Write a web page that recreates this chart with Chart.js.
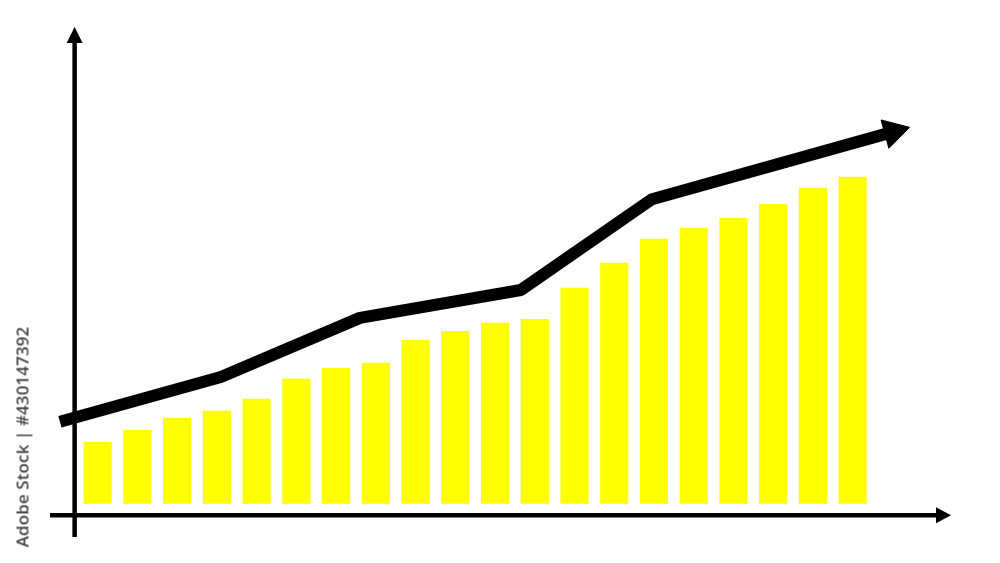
<!DOCTYPE html>
<html>
<head>
<meta charset="utf-8">
<script src="https://cdn.jsdelivr.net/npm/chart.js@4.4.1/dist/chart.umd.min.js"></script>
<style>
  html, body { margin: 0; padding: 0; background: #ffffff; }
  #wrap { position: relative; width: 1000px; height: 563px; overflow: hidden; }
  #stamp {
    position: absolute; left: 22px; top: 437px;
    transform: translate(-50%, -50%) rotate(-90deg);
    white-space: nowrap; font-family: "Open Sans", "Noto Sans", sans-serif;
    font-weight: 600; font-size: 17px; color: #444444; letter-spacing: 0.1px;
  }
</style>
</head>
<body>
<div id="wrap">
  <canvas id="c" width="1000" height="563"></canvas>
  <div id="stamp">Adobe Stock | #430147392</div>
</div>
<script>
// ---- data ----
const barIndex = [0,1,2,3,4,5,6,7,8,9,10,11,12,13,14,15,16,17,18,19];
const barValues = [12.7,15.2,17.7,19.2,21.7,25.9,28.1,29.2,34.0,35.8,37.5,38.3,44.8,50.0,55.0,57.3,59.3,62.2,65.6,67.9];
const trendX = [-0.95, 3.1, 6.6, 10.65, 13.95, 20.02];
const trendY = [17.0, 26.3, 38.6, 44.4, 63.3, 77.3];

const barData = barIndex.map((x, i) => ({ x: x, y: barValues[i] }));
const lineData = trendX.map((x, i) => ({ x: x, y: trendY[i] }));

const axesPlugin = {
  id: 'axesArrows',
  beforeDatasetsDraw(chart) {
    const { ctx, scales: { x, y } } = chart;
    const ax = x.getPixelForValue(-0.58);
    const ay = y.getPixelForValue(-2.5);
    ctx.save();
    ctx.strokeStyle = '#000';
    ctx.fillStyle = '#000';
    ctx.lineWidth = 4.5;
    // y axis
    ctx.beginPath();
    ctx.moveTo(ax, chart.chartArea.bottom);
    ctx.lineTo(ax, chart.chartArea.top + 12);
    ctx.stroke();
    ctx.beginPath();
    ctx.moveTo(ax, chart.chartArea.top - 3);
    ctx.lineTo(ax - 8, chart.chartArea.top + 13);
    ctx.lineTo(ax + 8, chart.chartArea.top + 13);
    ctx.closePath();
    ctx.fill();
    // x axis
    ctx.beginPath();
    ctx.moveTo(chart.chartArea.left, ay);
    ctx.lineTo(chart.chartArea.right - 12, ay);
    ctx.stroke();
    ctx.beginPath();
    ctx.moveTo(chart.chartArea.right + 1, ay);
    ctx.lineTo(chart.chartArea.right - 14, ay - 8);
    ctx.lineTo(chart.chartArea.right - 14, ay + 8);
    ctx.closePath();
    ctx.fill();
    ctx.restore();
  }
};

const chart = new Chart(document.getElementById('c'), {
  type: 'bar',
  data: {
    datasets: [
      {
        type: 'line',
        data: lineData,
        borderColor: '#000000',
        backgroundColor: '#000000',
        borderWidth: 12,
        borderJoinStyle: 'round',
        borderCapStyle: 'butt',
        tension: 0,
        clip: false,
        pointStyle: 'triangle',
        pointRadius: [0,0,0,0,0,17],
        pointHoverRadius: [0,0,0,0,0,17],
        pointRotation: [0,0,0,0,0,74.6],
        pointBackgroundColor: '#000000',
        pointBorderColor: '#000000',
        pointBorderWidth: 1,
        order: 0
      },
      {
        type: 'bar',
        data: barData,
        backgroundColor: '#ffff00',
        borderWidth: 0,
        barThickness: 27.5,
        order: 1
      }
    ]
  },
  options: {
    responsive: false,
    animation: false,
    events: [],
    layout: { padding: { left: 50, right: 50, top: 30, bottom: 26 } },
    plugins: { legend: { display: false }, tooltip: { enabled: false } },
    scales: {
      x: { type: 'linear', min: -1.2, max: 21.45, display: false, offset: false },
      y: { type: 'linear', min: -7, max: 98.5, display: false }
    }
  },
  plugins: [axesPlugin]
});
</script>
</body>
</html>
